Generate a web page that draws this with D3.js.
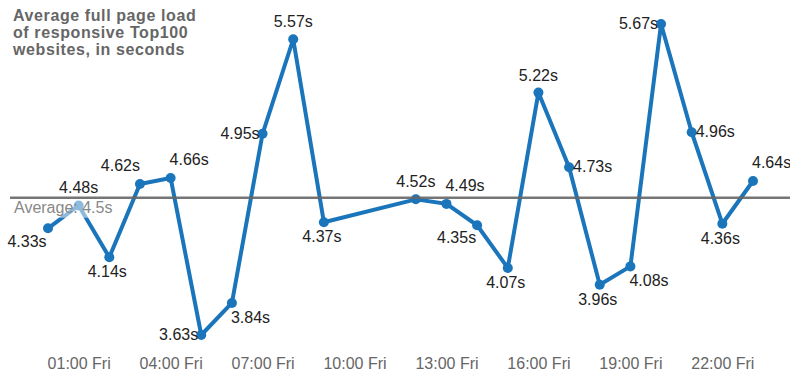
<!DOCTYPE html>
<html>
<head>
<meta charset="utf-8">
<script src="https://cdn.jsdelivr.net/npm/d3@7"></script>
<style>
  body { margin: 0; background: #fff; }
  svg { font-family: "Liberation Sans", Arial, sans-serif; }
  .title { font-size: 16px; font-weight: bold; fill: #666; letter-spacing: 0.6px; }
  .tick text { font-size: 16px; fill: #666; }
  .lbl { font-size: 16px; fill: #222; }
</style>
</head>
<body>
<svg class="chart"></svg>
<script>
//DATA
const hours = [0, 1, 2, 3, 4, 5, 6, 7, 8, 9, 12, 13, 14, 15, 16, 17, 18, 19, 20, 21, 22, 23];
const loadTimes = [4.33, 4.48, 4.14, 4.62, 4.66, 3.63, 3.84, 4.95, 5.57, 4.37, 4.52, 4.49, 4.35, 4.07, 5.22, 4.73, 3.96, 4.08, 5.67, 4.96, 4.36, 4.64];
// where each value label sits relative to its point
const labelSide = ['bl', 't', 'b', 'tl', 'tr', 'l', 'br', 'l', 't', 'b', 't', 'tr', 'bl2', 'b', 't', 'r', 'b', 'br', 'l', 'r', 'b', 'tr'];
const tickHours = [1, 4, 7, 10, 13, 16, 19, 22];
const averageValue = 4.53;
const titleLines = ['Average full page load', 'of responsive Top100', 'websites, in seconds'];

//INITIALIZING CANVAS
const size = {w: 790, h: 379};
const plot = {left: 48, right: 753, top: 24, bottom: 335};

const svg = d3.select('svg.chart')
    .attr('width', size.w)
    .attr('height', size.h);

const day = h => new Date(2015, 0, 2, h);
const points = hours.map((h, i) => ({t: day(h), v: loadTimes[i], side: labelSide[i]}));

//SCALES
const x = d3.scaleTime()
    .domain([day(0), day(23)])
    .range([plot.left, plot.right]);

const y = d3.scaleLinear()
    .domain(d3.extent(loadTimes))
    .range([plot.bottom, plot.top]);

//X AXIS
const xAxis = svg.append('g')
    .attr('transform', 'translate(0,358)')
    .call(d3.axisBottom(x)
        .tickValues(tickHours.map(day))
        .tickSize(0)
        .tickPadding(0)
        .tickFormat(d => d3.timeFormat('%H:%M')(d) + ' Fri'));
xAxis.select('.domain').remove();
xAxis.selectAll('text').attr('dy', '0.71em');

//SERIES
const line = d3.line()
    .x(d => x(d.t))
    .y(d => y(d.v));

svg.append('path')
    .datum(points)
    .attr('fill', 'none')
    .attr('stroke', '#1b75bb')
    .attr('stroke-width', 4)
    .attr('stroke-linejoin', 'round')
    .attr('d', line);

svg.selectAll('circle.dot')
    .data(points)
    .enter()
    .append('circle')
    .attr('class', 'dot')
    .attr('cx', d => x(d.t))
    .attr('cy', d => y(d.v))
    .attr('r', 5)
    .attr('fill', '#1b75bb');

//AVERAGE LINE
svg.append('line')
    .attr('x1', 10)
    .attr('x2', size.w)
    .attr('y1', y(averageValue))
    .attr('y2', y(averageValue))
    .attr('stroke', '#666')
    .attr('stroke-opacity', 0.9)
    .attr('stroke-width', 2.5);

const avgText = 'Average: ' + d3.format('.1f')(averageValue) + 's';
svg.append('rect')
    .attr('x', 12)
    .attr('y', y(averageValue) + 2)
    .attr('width', 112)
    .attr('height', 18)
    .attr('fill', '#fff')
    .attr('fill-opacity', 0.5);
svg.append('text')
    .attr('x', 14)
    .attr('y', y(averageValue) + 15)
    .attr('font-size', 16)
    .attr('fill', '#888')
    .text(avgText);

//VALUE LABELS
const offsets = {
    t:   {dx: 0,   dy: -12, anchor: 'middle'},
    b:   {dx: -2,  dy: 20,  anchor: 'middle'},
    l:   {dx: -3,  dy: 5,   anchor: 'end'},
    r:   {dx: 4,   dy: 5,   anchor: 'start'},
    tl:  {dx: 0,   dy: -13, anchor: 'end'},
    tr:  {dx: -1,  dy: -13, anchor: 'start'},
    bl:  {dx: -21, dy: 19,  anchor: 'middle'},
    bl2: {dx: -1,  dy: 18,  anchor: 'end'},
    br:  {dx: -1,  dy: 20,  anchor: 'start'}
};

svg.selectAll('text.lbl')
    .data(points)
    .enter()
    .append('text')
    .attr('class', 'lbl')
    .attr('x', d => x(d.t) + offsets[d.side].dx)
    .attr('y', d => y(d.v) + offsets[d.side].dy)
    .attr('text-anchor', d => offsets[d.side].anchor)
    .text(d => d.v.toFixed(2) + 's');

//TITLE
svg.append('text')
    .attr('class', 'title')
    .selectAll('tspan')
    .data(titleLines)
    .enter()
    .append('tspan')
    .attr('x', 13)
    .attr('y', (d, i) => 21 + i * 17)
    .text(d => d);
</script>
</body>
</html>
